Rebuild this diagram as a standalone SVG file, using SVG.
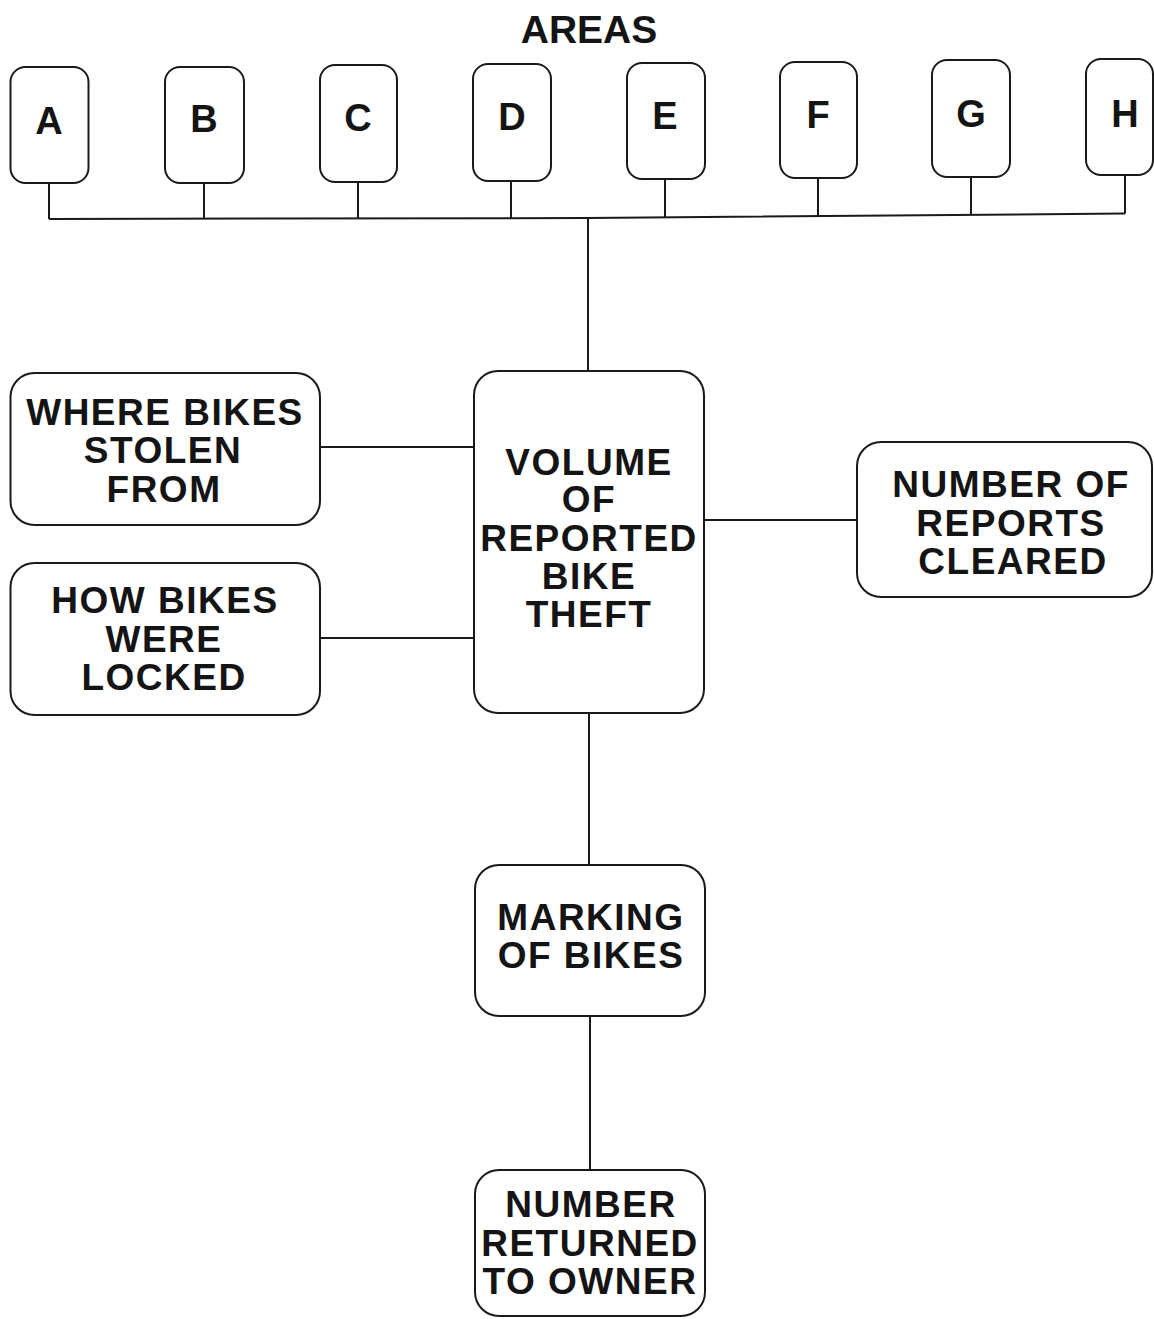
<svg xmlns="http://www.w3.org/2000/svg" width="1154" height="1319" viewBox="0 0 1154 1319">
<style>
.box{fill:#fff;stroke:#1a1a1a;stroke-width:2}
.ln{fill:none;stroke:#1a1a1a;stroke-width:2}
.t{font-family:"Liberation Sans",Arial,sans-serif;font-weight:bold;fill:#141414;text-anchor:middle}
.big{font-size:37px;letter-spacing:1.5px}
.sm{font-size:38px}
</style>
<rect width="1154" height="1319" fill="#fff"/>
<text class="t" x="589" y="43" font-size="39">AREAS</text>
<g id="connectors">
<path class="ln" d="M49 183V219M204 183V219M358 182V218.5M511 181V218M665 179V217M818 178V216.5M971 177V215M1125 175V213.5"/>
<path class="ln" d="M49 219L588 218L1125 213.5"/>
<path class="ln" d="M588 218V371"/>
<path class="ln" d="M320 447H474M320 638H474M704 520H857"/>
<path class="ln" d="M589 713V865M590 1016V1170"/>
</g>
<g id="A"><rect class="box" x="10.5" y="67" width="78" height="116" rx="15"/><text class="t sm" x="49" y="134">A</text></g>
<g id="B"><rect class="box" x="165" y="67" width="79" height="116" rx="15"/><text class="t sm" x="204" y="132">B</text></g>
<g id="C"><rect class="box" x="320" y="65" width="77" height="117" rx="15"/><text class="t sm" x="358" y="131">C</text></g>
<g id="D"><rect class="box" x="473" y="64" width="78" height="117" rx="15"/><text class="t sm" x="512" y="130">D</text></g>
<g id="E"><rect class="box" x="627" y="63" width="78" height="116" rx="15"/><text class="t sm" x="665" y="129">E</text></g>
<g id="F"><rect class="box" x="780" y="62" width="77" height="116" rx="15"/><text class="t sm" x="818" y="128">F</text></g>
<g id="G"><rect class="box" x="932" y="60" width="78" height="117" rx="15"/><text class="t sm" x="971" y="127">G</text></g>
<g id="H"><rect class="box" x="1086" y="59" width="67" height="116" rx="15"/><text class="t sm" x="1125" y="127">H</text></g>
<g id="volume"><rect class="box" x="474" y="371" width="230" height="342" rx="24"/>
<text class="t big" x="589" y="475">VOLUME</text><text class="t big" x="589" y="512">OF</text><text class="t big" x="589" y="551">REPORTED</text><text class="t big" x="589" y="589">BIKE</text><text class="t big" x="589" y="627">THEFT</text></g>
<g id="where"><rect class="box" x="10.5" y="373" width="309.5" height="152" rx="24"/>
<text class="t big" x="165" y="425">WHERE BIKES</text><text class="t big" x="163" y="463">STOLEN</text><text class="t big" x="164" y="502">FROM</text></g>
<g id="how"><rect class="box" x="10.5" y="563" width="309.5" height="152" rx="24"/>
<text class="t big" x="165" y="613">HOW BIKES</text><text class="t big" x="164" y="652">WERE</text><text class="t big" x="164" y="690">LOCKED</text></g>
<g id="cleared"><rect class="box" x="857" y="442" width="295" height="155" rx="24"/>
<text class="t big" x="1011" y="497">NUMBER OF</text><text class="t big" x="1011" y="536">REPORTS</text><text class="t big" x="1013" y="574">CLEARED</text></g>
<g id="marking"><rect class="box" x="475" y="865" width="230" height="151" rx="24"/>
<text class="t big" x="591" y="930">MARKING</text><text class="t big" x="591" y="968">OF BIKES</text></g>
<g id="returned"><rect class="box" x="475" y="1170" width="230" height="146" rx="24"/>
<text class="t big" x="591" y="1217">NUMBER</text><text class="t big" x="590" y="1256">RETURNED</text><text class="t big" x="590" y="1294">TO OWNER</text></g>
</svg>
